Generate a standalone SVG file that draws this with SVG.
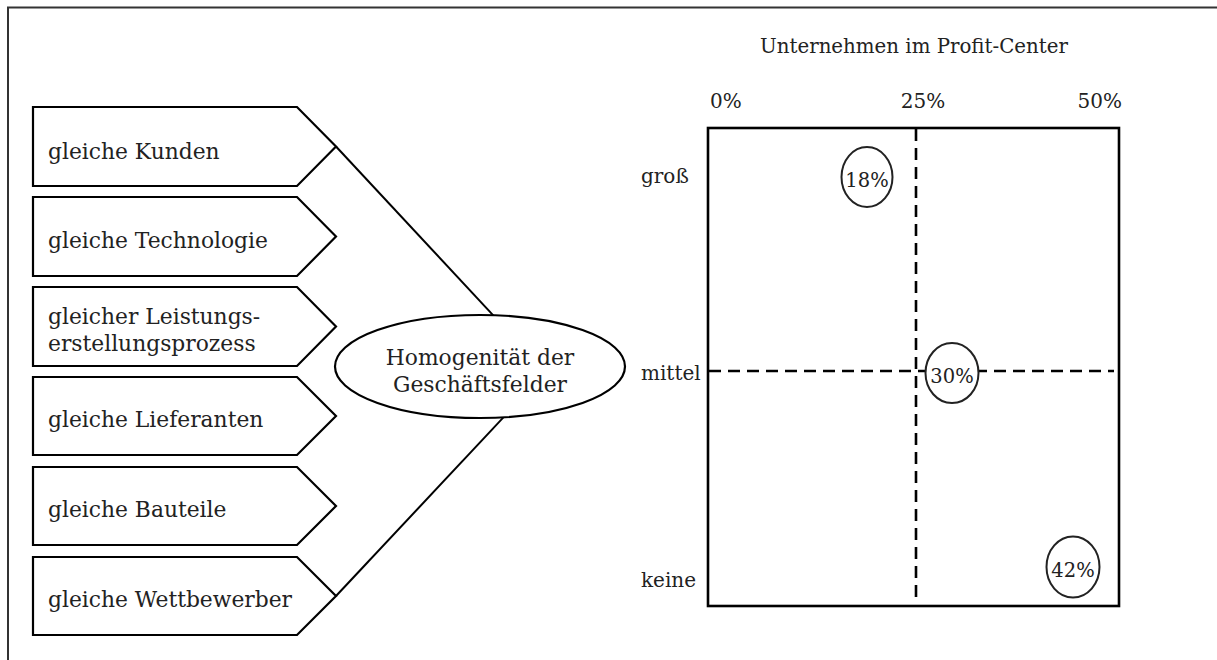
<svg xmlns="http://www.w3.org/2000/svg" width="1217" height="660" viewBox="0 0 1217 660">
  <style>
    text { font-family: "DejaVu Serif", "Liberation Serif", serif; font-size: 20px; fill: #222; }
    .lbl { font-size: 21.8px; }
    .title { font-size: 19.8px; }
    .row { font-size: 20px; }
    .pct { font-size: 19.5px; }
    .pent { fill: #fff; stroke: #000; stroke-width: 2.2; stroke-linejoin: miter; }
    .conn { fill: none; stroke: #000; stroke-width: 2; }
    .frame { fill: none; stroke: #333; stroke-width: 2; }
    .axis { fill: none; stroke: #000; stroke-width: 2.6; }
    .dash { fill: none; stroke: #000; stroke-width: 2.6; stroke-dasharray: 12 7; }
    .bubble { fill: #fff; stroke: #222; stroke-width: 2; }
    .mid { text-anchor: middle; }
  </style>

  <!-- outer frame (top and left edges) -->
  <path class="frame" d="M8 660 V7.5 H1217"/>

  <!-- connectors from the attribute arrows to the central ellipse -->
  <g id="connectors">
    <line class="conn" x1="336" y1="146.5" x2="546" y2="372"/>
    <line class="conn" x1="336" y1="596" x2="546" y2="372"/>
  </g>

  <!-- attribute arrows -->
  <g id="kunden">
    <path class="pent" d="M33 107 H297 L336 146.5 L297 186 H33 Z"/>
    <text class="lbl" x="48" y="159">gleiche Kunden</text>
  </g>
  <g id="technologie">
    <path class="pent" d="M33 197 H297 L336 236.5 L297 276 H33 Z"/>
    <text class="lbl" x="48" y="248">gleiche Technologie</text>
  </g>
  <g id="prozess">
    <path class="pent" d="M33 287 H297 L336 326.5 L297 366 H33 Z"/>
    <text class="lbl" x="48" y="324">gleicher Leistungs-</text>
    <text class="lbl" x="48" y="351">erstellungsprozess</text>
  </g>
  <g id="lieferanten">
    <path class="pent" d="M33 377 H297 L336 416 L297 455 H33 Z"/>
    <text class="lbl" x="48" y="427">gleiche Lieferanten</text>
  </g>
  <g id="bauteile">
    <path class="pent" d="M33 467 H297 L336 506 L297 545 H33 Z"/>
    <text class="lbl" x="48" y="517">gleiche Bauteile</text>
  </g>
  <g id="wettbewerber">
    <path class="pent" d="M33 557 H297 L336 596 L297 635 H33 Z"/>
    <text class="lbl" x="48" y="607">gleiche Wettbewerber</text>
  </g>

  <!-- central ellipse -->
  <g id="homogenitaet">
    <ellipse cx="480" cy="366.5" rx="145" ry="51.5" fill="#fff" stroke="#000" stroke-width="2.2"/>
    <text class="lbl mid" x="480" y="365">Homogenität der</text>
    <text class="lbl mid" x="480" y="392">Geschäftsfelder</text>
  </g>

  <!-- portfolio chart -->
  <g id="chart">
    <text class="title mid" x="914" y="53">Unternehmen im Profit-Center</text>
    <text x="710" y="108">0%</text>
    <text class="mid" x="923" y="108">25%</text>
    <text x="1122" y="108" text-anchor="end">50%</text>
    <text class="row" x="641" y="183">groß</text>
    <text class="row" x="641" y="380">mittel</text>
    <text class="row" x="641" y="587">keine</text>
    <rect class="axis" x="708" y="128" width="411" height="478"/>
    <line class="dash" x1="916" y1="129" x2="916" y2="598"/>
    <line class="dash" x1="709" y1="371" x2="1114" y2="371"/>
  </g>

  <g id="share-18">
    <ellipse class="bubble" cx="867" cy="177" rx="25.5" ry="30"/>
    <text class="pct mid" x="867" y="187">18%</text>
  </g>
  <g id="share-30">
    <ellipse class="bubble" cx="952" cy="373" rx="26.5" ry="30"/>
    <text class="pct mid" x="952" y="383">30%</text>
  </g>
  <g id="share-42">
    <ellipse class="bubble" cx="1073" cy="567" rx="26.5" ry="30.5"/>
    <text class="pct mid" x="1073" y="577">42%</text>
  </g>
</svg>
